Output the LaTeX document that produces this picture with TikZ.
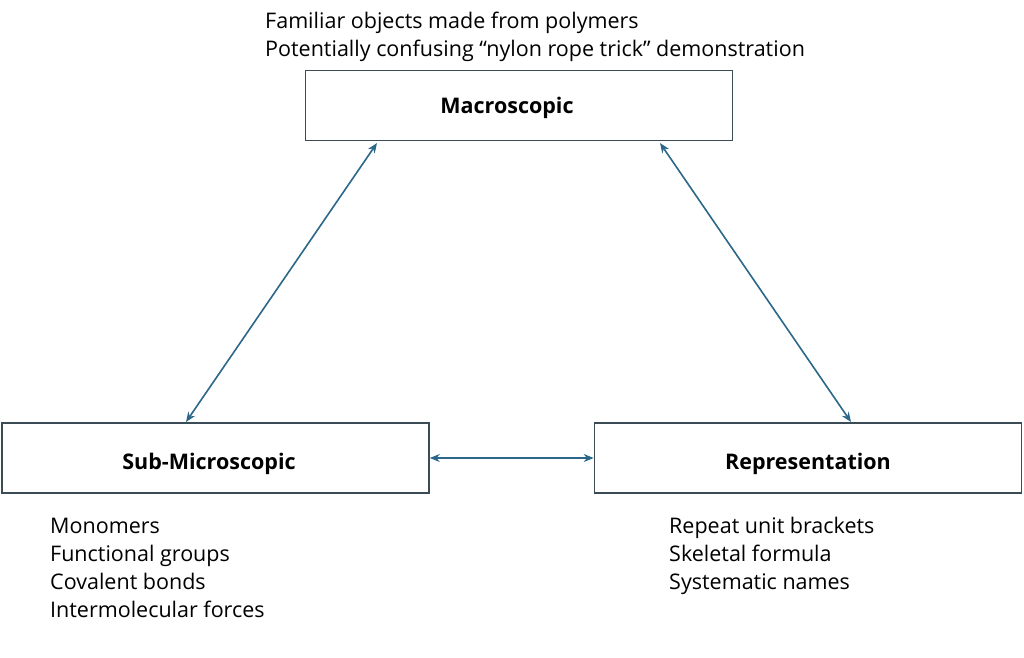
\documentclass[tikz,border=0pt]{standalone}
\usepackage{fontspec}
\setmainfont{Open Sans}
\usetikzlibrary{arrows.meta}
\definecolor{boxline}{HTML}{3B4C57}
\definecolor{arrowc}{HTML}{2B6788}
\tikzset{
  box/.style={draw=boxline, line width=1.6pt, minimum width=427pt, minimum height=70pt, inner sep=0pt},
  lbl/.style={anchor=base, font=\fontsize{21.5}{26}\selectfont\bfseries, inner sep=0pt},
  conn/.style={draw=arrowc, line width=1.6pt, {Stealth[length=10pt,width=8pt]}-{Stealth[length=10pt,width=8pt]}},
  listtext/.style={anchor=base west, align=left, inner sep=0pt, font=\fontsize{21.5}{28}\selectfont}
}
\begin{document}
\begin{tikzpicture}[x=1pt,y=-1pt]
\useasboundingbox (0,0) rectangle (1024,657);
\node[box] (macro) at (519,105.5) {};
\node[box] (sub) at (215.5,458) {};
\node[box] (rep) at (808,458) {};
\node[lbl] (macrolbl) at (507,113) {Macroscopic};
\node[lbl] (sublbl) at (209,469) {Sub-Microscopic};
\node[lbl] (replbl) at (808,469) {Representation};
\node[listtext] (toptext) at (265,56) {Familiar objects made from polymers\\Potentially confusing ``nylon rope trick'' demonstration};
\node[listtext] (subtext) at (50,617) {Monomers\\Functional groups\\Covalent bonds\\Intermolecular forces};
\node[listtext] (reptext) at (669,589) {Repeat unit brackets\\Skeletal formula\\Systematic names};
\coordinate (m1) at (377,143);
\coordinate (s1) at (186,422);
\coordinate (m2) at (660,143);
\coordinate (r1) at (851,422);
\draw[conn] (m1) -- (s1);
\draw[conn] (m2) -- (r1);
\draw[conn] (sub.east) -- (rep.west);
\end{tikzpicture}
\end{document}
